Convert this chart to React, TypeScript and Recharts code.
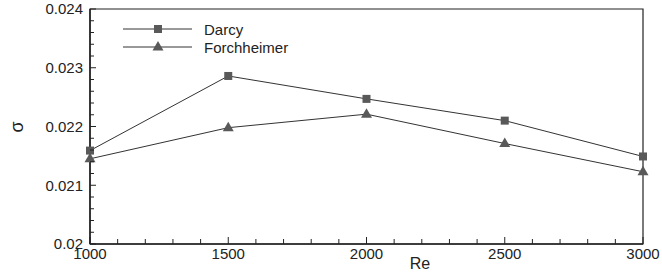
import React from 'react'
import { LineChart, Line, XAxis, YAxis, Legend, ReferenceArea } from 'recharts'

// Re values on the x axis
const reValues = [1000, 1500, 2000, 2500, 3000]
// sigma
const darcy = [0.02159, 0.02286, 0.02247, 0.0221, 0.02149]
const forchheimer = [0.02145, 0.02198, 0.02221, 0.02171, 0.02123]

const yMajorLabels = ['0.02', '0.021', '0.022', '0.023', '0.024']
const xMajorLabels = ['1000', '1500', '2000', '2500', '3000']

const FONT = '"Liberation Sans", Arial, sans-serif'
const AXIS = '#222'
const MARK = '#595959'

const data = reValues.map((re, i) => ({ re, darcy: darcy[i], forchheimer: forchheimer[i] }))

// minor ticks every 0.0002 / every 100
const yTicks: number[] = []
for (let i = 0; i <= 20; i++) yTicks.push(Math.round((0.02 + i * 0.0002) * 1e5) / 1e5)
const xTicks: number[] = []
for (let i = 0; i <= 20; i++) xTicks.push(1000 + i * 100)

const YTick = (props: any) => {
  const { x, y, index } = props
  const major = index % 5 === 0
  return (
    <g>
      <line x1={x} x2={x + (major ? 6 : 4)} y1={y} y2={y} stroke={AXIS} strokeWidth={1} />
      {major && (
        <text x={x - 7} y={y} dy="0.36em" textAnchor="end" fontSize={15} fontFamily={FONT} fill={AXIS}>
          {yMajorLabels[index / 5]}
        </text>
      )}
    </g>
  )
}

const XTick = (props: any) => {
  const { x, y, index } = props
  const major = index % 5 === 0
  return (
    <g>
      <line x1={x} x2={x} y1={y} y2={y - (major ? 7 : 5)} stroke={AXIS} strokeWidth={1} />
      {major && (
        <text x={x} y={y + 15} textAnchor="middle" fontSize={15} fontFamily={FONT} fill={AXIS}>
          {xMajorLabels[index / 5]}
        </text>
      )}
    </g>
  )
}

const squareDot = (props: any) => {
  const { cx, cy, index } = props
  return <rect key={'s' + index} x={cx - 4} y={cy - 4} width={8} height={8} fill={MARK} />
}

const triangleDot = (props: any) => {
  const { cx, cy, index } = props
  return (
    <polygon
      key={'t' + index}
      points={`${cx},${cy - 6} ${cx + 5.5},${cy + 3.5} ${cx - 5.5},${cy + 3.5}`}
      fill={MARK}
    />
  )
}

const renderLegend = () => {
  const items = [
    { name: 'Darcy', shape: 'square' },
    { name: 'Forchheimer', shape: 'triangle' },
  ]
  return (
    <div>
      {items.map((it) => (
        <div key={it.name} style={{ display: 'flex', alignItems: 'center', height: 18 }}>
          <svg width={70} height={18}>
            <line x1={0} x2={69} y1={9} y2={9} stroke="#333" strokeWidth={1} />
            {it.shape === 'square' ? (
              <rect x={31} y={5} width={8} height={8} fill={MARK} />
            ) : (
              <polygon points="35,3 40.5,12.5 29.5,12.5" fill={MARK} />
            )}
          </svg>
          <span style={{ marginLeft: 11, fontSize: 15, fontFamily: FONT, color: AXIS }}>{it.name}</span>
        </div>
      ))}
    </div>
  )
}

export default function App() {
  return (
    <div style={{ position: 'absolute', left: 0, top: 0, background: '#fff' }}>
      <LineChart width={662} height={278} data={data} margin={{ top: 9, right: 19, left: 0, bottom: 0 }}>
        <XAxis
          dataKey="re"
          type="number"
          domain={[1000, 3000]}
          ticks={xTicks}
          interval={0}
          height={34}
          tickSize={0}
          tickMargin={0}
          tick={<XTick />}
          axisLine={{ stroke: AXIS, strokeWidth: 1.5 }}
          label={{
            content: () => (
              <text x={420} y={269} textAnchor="middle" fontSize={16} fontFamily={FONT} fill={AXIS}>
                Re
              </text>
            ),
          }}
        />
        <YAxis
          type="number"
          domain={[0.02, 0.024]}
          ticks={yTicks}
          interval={0}
          width={90}
          tickSize={0}
          tickMargin={0}
          tick={<YTick />}
          axisLine={{ stroke: AXIS, strokeWidth: 1.5 }}
          label={{
            content: () => (
              <text
                x={17}
                y={127}
                transform="rotate(-90 17 127)"
                textAnchor="middle"
                dy="0.36em"
                fontSize={18}
                fontFamily={FONT}
                fill={AXIS}
              >
                σ
              </text>
            ),
          }}
        />
        <ReferenceArea x1={1000} x2={3000} y1={0.02} y2={0.024} fill="none" stroke={AXIS} strokeWidth={1.2} />
        <Legend
          content={renderLegend}
          layout="vertical"
          align="center"
          verticalAlign="middle"
          wrapperStyle={{ left: 123, top: 20, width: 250 }}
        />
        <Line
          dataKey="darcy"
          name="Darcy"
          stroke="#333"
          strokeWidth={1}
          dot={squareDot}
          isAnimationActive={false}
        />
        <Line
          dataKey="forchheimer"
          name="Forchheimer"
          stroke="#333"
          strokeWidth={1}
          dot={triangleDot}
          isAnimationActive={false}
        />
      </LineChart>
    </div>
  )
}
